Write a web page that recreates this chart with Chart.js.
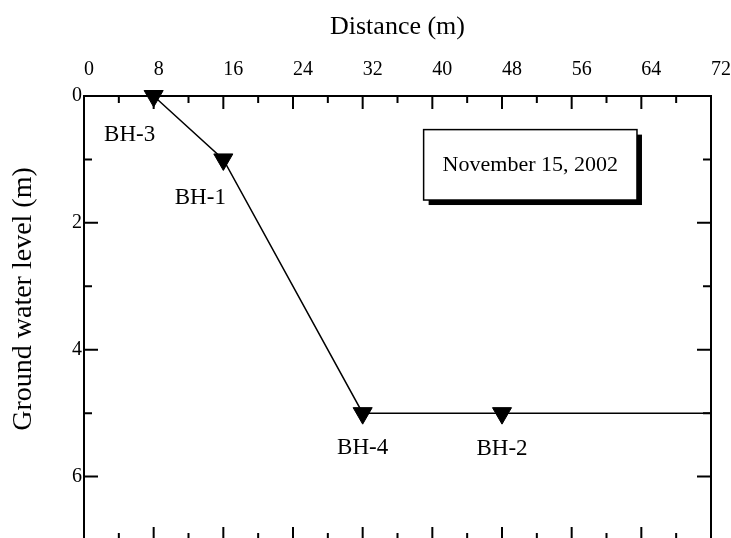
<!DOCTYPE html>
<html>
<head>
<meta charset="utf-8">
<title>Ground water level</title>
<script src="https://cdn.jsdelivr.net/npm/chart.js@4.4.1/dist/chart.umd.min.js"></script>
<style>
  html, body { margin: 0; padding: 0; background: #fff; overflow: hidden; }
  #wrap { width: 731px; height: 560px; }
</style>
</head>
<body>
<div id="wrap"><canvas id="gwChart" width="731" height="560"></canvas></div>
<script>
const boreholes = ["BH-3", "BH-1", "BH-4", "BH-2"];
// last point has no borehole, it only carries the line to the edge
const distances = [8, 16, 32, 48, 72];
const waterLevels = [0, 1, 5, 5, 5];
const xTickValues = [0, 8, 16, 24, 32, 40, 48, 56, 64, 72];
const yTickValues = [0, 2, 4, 6];
const surveyDate = "November 15, 2002";

// name placement relative to each marker, in px
const nameOffsets = [[-24, 39], [-23, 39], [0, 35], [0, 36]];
// date box corners in axis units
const noteBox = { x0: 39, x1: 63.5, y0: 0.53, y1: 1.64 };

const serif = '"Liberation Serif", "Times New Roman", serif';
const ctx = document.getElementById("gwChart").getContext("2d");

const framePlugin = {
  id: "frame",
  afterDraw(chart) {
    const { ctx, chartArea: a, scales: { x, y } } = chart;
    ctx.save();
    ctx.strokeStyle = "#000";
    ctx.lineWidth = 2;
    ctx.strokeRect(a.left, a.top, a.right - a.left, a.bottom - a.top);

    // inward ticks on all four sides, minor ones halfway
    ctx.beginPath();
    const xStep = xTickValues[1] - xTickValues[0];
    for (let v = xTickValues[0]; v <= xTickValues[xTickValues.length - 1]; v += xStep / 2) {
      const px = x.getPixelForValue(v);
      const len = v % xStep === 0 ? 13 : 7;
      ctx.moveTo(px, a.top); ctx.lineTo(px, a.top + len);
      ctx.moveTo(px, a.bottom); ctx.lineTo(px, a.bottom - len);
    }
    const yStep = yTickValues[1] - yTickValues[0];
    for (let v = 0; v <= y.max; v += yStep / 2) {
      const py = y.getPixelForValue(v);
      const len = v % yStep === 0 ? 14 : 8;
      ctx.moveTo(a.left, py); ctx.lineTo(a.left + len, py);
      ctx.moveTo(a.right, py); ctx.lineTo(a.right - len, py);
    }
    ctx.stroke();

    // borehole names
    ctx.fillStyle = "#000";
    ctx.font = "23px " + serif;
    ctx.textAlign = "center";
    ctx.textBaseline = "middle";
    boreholes.forEach((name, i) => {
      const px = x.getPixelForValue(distances[i]);
      const py = y.getPixelForValue(waterLevels[i]);
      ctx.fillText(name, px + nameOffsets[i][0], py + nameOffsets[i][1]);
    });

    // date box with drop shadow
    const bx = x.getPixelForValue(noteBox.x0);
    const by = y.getPixelForValue(noteBox.y0);
    const bw = x.getPixelForValue(noteBox.x1) - bx;
    const bh = y.getPixelForValue(noteBox.y1) - by;
    ctx.fillRect(bx + 5, by + 5, bw, bh);
    ctx.fillStyle = "#fff";
    ctx.fillRect(bx, by, bw, bh);
    ctx.lineWidth = 1.5;
    ctx.strokeRect(bx, by, bw, bh);
    ctx.fillStyle = "#000";
    ctx.font = "22px " + serif;
    ctx.fillText(surveyDate, bx + bw / 2, by + bh / 2);

    // y axis title
    ctx.font = "28px " + serif;
    ctx.translate(24, 299);
    ctx.rotate(-Math.PI / 2);
    ctx.fillText("Ground water level (m)", 0, 0);
    ctx.restore();
  }
};

new Chart(ctx, {
  type: "line",
  data: {
    datasets: [
      {
        data: distances.map((d, i) => ({ x: d, y: waterLevels[i] })),
        borderColor: "#000",
        borderWidth: 1.5,
        tension: 0,
        pointStyle: "triangle",
        pointRotation: 180,
        pointRadius: distances.map((d, i) => (i < boreholes.length ? 11 : 0)),
        pointBackgroundColor: "#000",
        pointBorderColor: "#000",
        pointBorderWidth: 1,
        clip: false,
      },
    ],
  },
  options: {
    responsive: false,
    animation: false,
    events: [],
    layout: { padding: { left: 0, top: 0, right: 20, bottom: 20 } },
    plugins: { legend: { display: false }, tooltip: { enabled: false } },
    scales: {
      x: {
        type: "linear",
        position: "top",
        min: 0,
        max: 72,
        grid: { display: false, drawTicks: false },
        border: { display: false },
        afterBuildTicks: (s) => { s.ticks = xTickValues.map((v) => ({ value: v })); },
        afterFit: (s) => { s.height = 96; s.paddingLeft = 0; s.paddingRight = 0; },
        ticks: {
          align: "start",
          padding: 14,
          autoSkip: false,
          maxRotation: 0,
          color: "#000",
          font: { family: serif, size: 20 },
        },
        title: {
          display: true,
          text: "Distance (m)",
          color: "#000",
          font: { family: serif, size: 26 },
          padding: { top: 12, bottom: 0 },
        },
      },
      y: {
        type: "linear",
        position: "left",
        reverse: true,
        min: 0,
        max: 7,
        grid: { display: false, drawTicks: false },
        border: { display: false },
        afterBuildTicks: (s) => { s.ticks = yTickValues.map((v) => ({ value: v })); },
        afterFit: (s) => { s.width = 84; s.paddingTop = 0; s.paddingBottom = 0; },
        ticks: {
          padding: 2,
          color: "#000",
          font: { family: serif, size: 20 },
        },
      },
    },
  },
  plugins: [framePlugin],
});
</script>
</body>
</html>
